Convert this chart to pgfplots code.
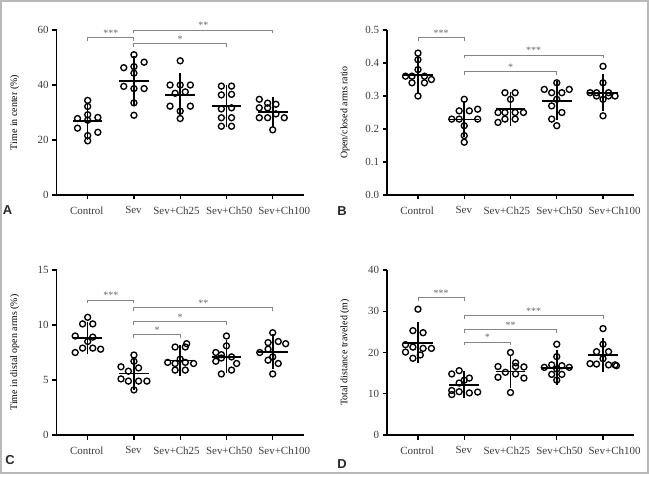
\documentclass[border=0pt]{standalone}
\usepackage{pgfplots}
\pgfplotsset{compat=1.18}
\usepackage{fontspec}
\setmainfont{Liberation Serif}
\newfontfamily\arialfont{Liberation Sans}
\definecolor{txtgray}{HTML}{3C3C3C}
\definecolor{brgray}{HTML}{858585}
\definecolor{stargray}{HTML}{6A6A6A}
\pgfplotsset{
  panel/.style={scale only axis, width=247bp, height=165bp, xmin=-0.67, xmax=4.67,
    axis lines*=left, axis line style={line width=1.3bp, black},
    tick align=outside, major tick length=4.5bp, tick style={black, line width=1.3bp},
    xtick={0,1,2,3,4}, xticklabels={,,,,},
    extra x ticks={-0.02,0.99,1.92,3.06,4.25},
    extra x tick labels={Control,Sev,Sev+Ch25,Sev+Ch50,Sev+Ch100},
    extra x tick style={major tick length=0pt, xticklabel style={anchor=north, yshift=-8bp}},
    clip=false, minor tick num=0,
    ticklabel style={font=\fontsize{11}{13}\selectfont, text=txtgray},
    /pgf/number format/assume math mode=true,
    label style={font=\fontsize{11}{13}\selectfont, text=txtgray},
    every axis y label/.style={at={(axis description cs:-0.17,0.5)}, rotate=90, anchor=center}},
  pts/.style={only marks, mark=o, mark size=3bp, mark options={line width=1.35bp, black, fill=white}},
  msd/.style={only marks, mark=-, mark size=14.8bp, mark options={line width=1.8bp, black},
    error bars/.cd, y dir=both, y explicit, error bar style={line width=1.6bp, black},
    error mark options={line width=1.6bp, black, mark size=5.5bp}},
  brk/.style={sharp plot, no marks, line width=0.9bp, brgray},
}
\tikzset{star/.style={anchor=south, inner sep=1bp, text=stargray, font=\fontsize{10}{12}\selectfont},
  letter/.style={font=\arialfont\bfseries\fontsize{13}{15}\selectfont, anchor=center, text=black!85}}
\begin{document}
\begin{tikzpicture}
\useasboundingbox (0,0) rectangle (649bp,477bp);
\draw[gray!55, line width=1.2bp] (1bp,4bp) rectangle (648bp,476bp);
% ---------------- A
\begin{axis}[panel, at={(56.7bp,282bp)}, anchor=south west, ymin=0, ymax=60, ytick={0,20,40,60}, ylabel={Time in center (\%)}]
\addplot[pts] coordinates {(0,34.4) (0,32.2) (0,29.2) (-0.22,27.8) (0.22,28.2) (-0.22,24.3) (0.22,22.8) (0,21.6) (0,19.7) (0,27.2)};
\addplot[pts] coordinates {(1,51) (1.22,48.3) (0.78,46.3) (1,46.7) (1,44.3) (0.78,39.5) (1,38.7) (1.22,38.7) (1,33.5) (1,29)};
\addplot[pts] coordinates {(2,48.8) (1.78,40) (2,40) (2.22,40) (1.89,37) (2.11,37.5) (1.78,32.3) (2.22,32.3) (2,30.5) (2,27.8)};
\addplot[pts] coordinates {(2.89,39.6) (3.11,39.6) (2.89,36.4) (3.11,36.6) (3.11,31.7) (2.89,31.3) (2.89,28.1) (3.11,28.1) (2.89,25) (3.11,25)};
\addplot[pts] coordinates {(3.71,34.8) (3.89,33.4) (4.07,33) (3.71,31.7) (3.89,31.7) (4.07,29.5) (3.71,28.1) (3.89,28.1) (4.25,28.1) (4,23.7)};
\addplot[msd] coordinates {(0,26.8) +- (0,4.7) (1,41.5) +- (0,7.0) (2,36.5) +- (0,5.9) (3,32.4) +- (0,5.5) (4,30.1) +- (0,3.45)};
\addplot[brk] coordinates {(0,55.9) (0,57.2) (1,57.2) (1,55.9)};
\addplot[brk] coordinates {(1,58.8) (1,60) (4,60) (4,58.8)};
\addplot[brk] coordinates {(1,53.7) (1,55) (3,55) (3,53.7)};
\node[star] at (axis cs:0.5,57.2) {***};
\node[star] at (axis cs:2.5,60) {**};
\node[star] at (axis cs:2,55) {*};
\end{axis}
% ---------------- B
\begin{axis}[panel, at={(387bp,282bp)}, anchor=south west, ymin=0, ymax=0.5, ytick={0,0.1,0.2,0.3,0.4,0.5},
  yticklabel style={/pgf/number format/.cd, fixed, fixed zerofill, precision=1}, ylabel={Open/closed arms ratio}]
\addplot[pts] coordinates {(0,0.43) (0,0.41) (0,0.38) (-0.27,0.36) (-0.13,0.36) (0.14,0.36) (0.29,0.35) (-0.13,0.34) (0.14,0.34) (0,0.30)};
\addplot[pts] coordinates {(1,0.29) (0.89,0.255) (1.11,0.255) (1.29,0.26) (0.73,0.23) (0.89,0.23) (1.29,0.23) (1,0.21) (1,0.18) (1,0.16)};
\addplot[pts] coordinates {(1.88,0.31) (2.1,0.31) (2,0.29) (1.73,0.25) (1.88,0.25) (2.1,0.25) (2.28,0.25) (1.73,0.22) (1.88,0.23) (2.1,0.23)};
\addplot[pts] coordinates {(3,0.34) (2.73,0.32) (3.27,0.32) (2.89,0.31) (3.11,0.31) (3,0.29) (2.89,0.27) (3.11,0.25) (2.89,0.23) (3,0.21)};
\addplot[pts] coordinates {(4,0.39) (4,0.34) (3.72,0.31) (3.86,0.31) (4.12,0.31) (4.26,0.30) (3.86,0.30) (4.12,0.30) (4,0.29) (4,0.24)};
\addplot[msd] coordinates {(0,0.363) +- (0,0.038) (1,0.229) +- (0,0.038) (2,0.26) +- (0,0.034) (3,0.286) +- (0,0.042) (4,0.31) +- (0,0.039)};
\addplot[brk] coordinates {(0,0.467) (0,0.477) (1,0.477) (1,0.467)};
\addplot[brk] coordinates {(1,0.414) (1,0.424) (4,0.424) (4,0.414)};
\addplot[brk] coordinates {(1,0.364) (1,0.374) (3,0.374) (3,0.364)};
\node[star] at (axis cs:0.5,0.477) {***};
\node[star] at (axis cs:2.5,0.424) {***};
\node[star] at (axis cs:2,0.374) {*};
\end{axis}
% ---------------- C
\begin{axis}[panel, at={(56.7bp,42bp)}, anchor=south west, ymin=0, ymax=15, ytick={0,5,10,15}, ylabel={Time in distal open arms (\%)}]
\addplot[pts] coordinates {(0,10.7) (-0.11,10.1) (0.11,10.1) (-0.27,9.0) (0.11,8.9) (0,8.5) (-0.11,7.9) (0.11,7.9) (0.28,7.8) (-0.27,7.5)};
\addplot[pts] coordinates {(1,7.27) (1,6.7) (0.72,6.2) (1.1,6.1) (0.88,5.8) (0.72,5.1) (0.88,4.9) (1.1,4.9) (1.28,4.9) (1,4.1)};
\addplot[pts] coordinates {(2.14,8.3) (1.89,8.0) (2.11,8.0) (2,6.9) (1.73,6.6) (1.89,6.5) (2.11,6.6) (2.29,6.5) (1.89,5.9) (2.11,5.9)};
\addplot[pts] coordinates {(3,9.0) (3,8.1) (2.77,7.5) (2.89,7.3) (3.11,7.1) (2.89,7.0) (2.77,6.7) (3.22,6.5) (3.11,5.9) (2.89,5.55)};
\addplot[pts] coordinates {(4,9.3) (3.9,8.4) (4.12,8.5) (4.28,8.3) (3.72,7.5) (3.9,7.8) (4,7.1) (3.9,6.8) (4.12,6.5) (4,5.55)};
\addplot[msd] coordinates {(0,8.85) +- (0,0.95) (1,5.6) +- (0,0.97) (2,6.78) +- (0,0.88) (3,7.1) +- (0,1.0) (4,7.58) +- (0,1.1)};
\addplot[brk] coordinates {(0,11.97) (0,12.27) (1,12.27) (1,11.97)};
\addplot[brk] coordinates {(1,11.28) (1,11.58) (4,11.58) (4,11.28)};
\addplot[brk] coordinates {(1,10.0) (1,10.3) (3,10.3) (3,10.0)};
\addplot[brk] coordinates {(1,8.85) (1,9.15) (2,9.15) (2,8.85)};
\node[star] at (axis cs:0.5,12.27) {***};
\node[star] at (axis cs:2.5,11.58) {**};
\node[star] at (axis cs:2,10.3) {*};
\node[star] at (axis cs:1.5,9.15) {*};
\end{axis}
% ---------------- D
\begin{axis}[panel, at={(387bp,42bp)}, anchor=south west, ymin=0, ymax=40, ytick={0,10,20,30,40}, ylabel={Total distance traveled (m)}]
\addplot[pts] coordinates {(0,30.5) (-0.11,25.3) (0.11,24.8) (-0.27,21.9) (-0.11,21.3) (0.11,21.0) (0.29,21.0) (-0.27,20.1) (0.05,19.4) (-0.11,18.6)};
\addplot[pts] coordinates {(0.89,15.6) (0.73,14.8) (1.11,13.8) (1,13.3) (0.89,12.6) (0.73,10.8) (0.89,10.5) (1.11,10.2) (1.29,10.4) (0.73,9.8)};
\addplot[pts] coordinates {(2,20.0) (2.11,17.5) (1.73,16.6) (2.11,16.6) (2.29,16.5) (1.89,15.2) (2.11,14.8) (1.73,14.0) (2.29,13.8) (2,10.3)};
\addplot[pts] coordinates {(3,22.0) (3,19.0) (2.89,17.0) (3.11,16.8) (2.73,16.4) (3.27,16.4) (3,16.0) (2.89,14.7) (3.11,14.7) (3,13.3)};
\addplot[pts] coordinates {(4,25.8) (4,22.0) (3.86,20.2) (4.12,20.2) (4,18.5) (3.72,17.3) (3.86,17.2) (4.12,17.0) (4.26,17.0) (4.29,16.8)};
\addplot[msd] coordinates {(0,22.4) +- (0,3.6) (1,12.2) +- (0,2.0) (2,15.4) +- (0,2.7) (3,16.3) +- (0,2.9) (4,19.35) +- (0,2.85)};
\addplot[brk] coordinates {(0,32.5) (0,33.3) (1,33.3) (1,32.5)};
\addplot[brk] coordinates {(1,28.15) (1,28.95) (4,28.95) (4,28.15)};
\addplot[brk] coordinates {(1,24.8) (1,25.6) (3,25.6) (3,24.8)};
\addplot[brk] coordinates {(1,21.7) (1,22.5) (2,22.5) (2,21.7)};
\node[star] at (axis cs:0.5,33.3) {***};
\node[star] at (axis cs:2.5,28.95) {***};
\node[star] at (axis cs:2,25.6) {**};
\node[star] at (axis cs:1.5,22.5) {*};
\end{axis}
% panel letters
\node[letter] at (7.5bp,267bp) {A};
\node[letter] at (342bp,266bp) {B};
\node[letter] at (10bp,17bp) {C};
\node[letter] at (342bp,13bp) {D};
\end{tikzpicture}
\end{document}
